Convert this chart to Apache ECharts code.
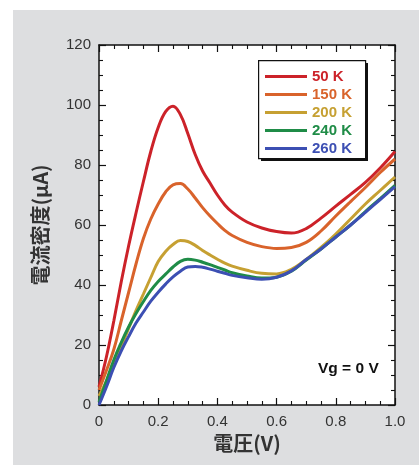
<!DOCTYPE html>
<html><head><meta charset="utf-8">
<script src="https://cdn.jsdelivr.net/npm/echarts@6/dist/echarts.min.js"></script>
<style>
html,body{margin:0;padding:0;background:#fff}
#wrap{position:relative;width:419px;height:465px;background:#fff;overflow:hidden}
#panel{position:absolute;left:13px;top:10px;width:406px;height:455px;background:#dddee0}
#plotbg{position:absolute;left:99px;top:45px;width:296px;height:360px;background:#fff}
#c{position:absolute;left:0;top:0;width:419px;height:465px}
</style>
</head><body><div id="wrap"><div id="panel"></div><div id="plotbg"></div><div id="c"></div></div>
<script>
const seriesNames = ['50 K','150 K','200 K','240 K','260 K'];
const seriesColors = ['#cc2229','#d9632b','#c6a032','#1f8c47','#3c4fb3'];
const voltage = [0,0.025,0.05,0.075,0.1,0.125,0.15,0.175,0.2,0.225,0.25,0.275,0.3,0.325,0.35,0.375,0.4,0.425,0.45,
                 0.5,0.55,0.6,0.65,0.7,0.75,0.8,0.85,0.9,0.95,1.0];
const k50  = [6,16,28,41,53,64,74.5,84.5,92.5,97.8,99.6,96.8,90.5,83.5,78,74,70,66.7,64.3,
              61,59,57.8,57.3,58.8,62.3,66.3,70.2,74.2,79,84.5];
const k150 = [5,11.5,18.5,28,37.5,47,55.5,62,67,71,73.4,73.8,72,69,65.8,63,60.5,58.2,56.5,
              54.2,52.8,52.2,52.5,54.2,58,63,67.8,72.5,77.5,82];
const k200 = [3,8,14,19.5,25.5,31.5,37,42.5,47.8,51.2,53.5,54.8,54.5,53.2,51.5,50,48.6,47.3,46.3,
              44.9,43.9,43.7,45.2,48.5,52.5,57,62,67,71.5,76];
const k240 = [1,8,15,20.8,26,30.5,34.5,38.2,41.2,43.6,46,47.9,48.6,48.3,47.6,46.8,45.9,45,44.1,
              43,42.3,42.6,44.6,48.3,52,56,60,64.5,68.8,73.2];
const k260 = [0,6,12.5,18,22.8,27.3,31,34.6,37.6,40.3,42.7,44.6,46,46.2,45.9,45.3,44.6,43.9,43.2,
              42.4,41.9,42.6,44.7,48.5,52,56,60,64.2,68.5,72.8];
const allData = [k50,k150,k200,k240,k260];
const xLabel = '電圧(V)';
const yLabel = '電流密度(μA)';
const note = 'Vg = 0 V';

const font = 'Liberation Sans, Arial, sans-serif';
const cjk = '"Noto Sans CJK JP", sans-serif';
const chart = echarts.init(document.getElementById('c'), null, {renderer:'canvas'});
const PW = 296, PH = 360;
const tickOn = {show:true, length:7, lineStyle:{color:'#111', width:1.2}};
const minorOn = {show:true, splitNumber:4, length:4, lineStyle:{color:'#111', width:1.1}};
const lineOn = {show:true, onZero:false, lineStyle:{color:'#111', width:1.5}};
const lineOff = {show:false, onZero:false};
const noTick = {show:false};
function xBase(extra){
  return Object.assign({type:'value', min:0, max:1, interval:0.2, splitLine:{show:false}, minorSplitLine:{show:false}}, extra);
}
function yBase(extra){
  return Object.assign({type:'value', min:0, max:120, interval:20, splitLine:{show:false}, minorSplitLine:{show:false}}, extra);
}
chart.setOption({
  animation:false,
  backgroundColor:'transparent',
  graphic:[
    {type:'rect', z:5, left:261, top:63, shape:{width:107, height:98}, style:{fill:'#111'}, silent:true},
    {type:'rect', z:5, left:258, top:60, shape:{width:107, height:98}, style:{fill:'#fff', stroke:'#111', lineWidth:1.2}, silent:true},
    {type:'text', left:318, top:361, z:10, style:{text:note, font:'bold 15.5px Liberation Sans, Arial, sans-serif', fill:'#111'}}
  ],
  grid:{left:99, top:45, width:PW, height:PH},
  xAxis:[
    xBase({position:'bottom', axisLine:lineOn, axisTick:noTick, minorTick:noTick,
      axisLabel:{color:'#333', fontSize:15, fontFamily:font, margin:9, formatter:v=> v===0?'0':v.toFixed(1)},
      name:xLabel, nameLocation:'middle', nameGap:26,
      nameTextStyle:{fontFamily:cjk, fontSize:20, color:'#333', fontWeight:'bold'}}),
    xBase({position:'top', axisLine:lineOn, axisTick:noTick, minorTick:noTick, axisLabel:{show:false}}),
    xBase({position:'bottom', offset:-PH, axisLine:lineOff, axisTick:tickOn, minorTick:minorOn, axisLabel:{show:false}}),
    xBase({position:'top', offset:-PH, axisLine:lineOff, axisTick:tickOn, minorTick:minorOn, axisLabel:{show:false}})
  ],
  yAxis:[
    yBase({position:'left', axisLine:lineOn, axisTick:noTick, minorTick:noTick,
      axisLabel:{color:'#333', fontSize:15, fontFamily:font, margin:8},
      name:yLabel, nameLocation:'middle', nameGap:49, nameRotate:90,
      nameTextStyle:{fontFamily:cjk, fontSize:20, color:'#333', fontWeight:'bold'}}),
    yBase({position:'right', axisLine:lineOn, axisTick:noTick, minorTick:noTick, axisLabel:{show:false}}),
    yBase({position:'left', offset:-PW, axisLine:lineOff, axisTick:tickOn, minorTick:minorOn, axisLabel:{show:false}}),
    yBase({position:'right', offset:-PW, axisLine:lineOff, axisTick:tickOn, minorTick:minorOn, axisLabel:{show:false}})
  ],
  legend:{
    z:10, orient:'vertical', left:265, top:69, itemWidth:42, itemHeight:3, itemGap:3,
    icon:'rect', padding:0,
    textStyle:{fontFamily:font, fontWeight:'bold', fontSize:15},
    data: seriesNames.map((n,i)=>({name:n, textStyle:{color:seriesColors[i]}}))
  },
  series: allData.map((d,i)=>({
    name:seriesNames[i], type:'line', smooth:0.4, showSymbol:false, symbol:'none',
    xAxisIndex:0, yAxisIndex:0, data:voltage.map((v,j)=>[v,d[j]]), z:2,
    lineStyle:{color:seriesColors[i], width:3}, itemStyle:{color:seriesColors[i]}
  }))
});
</script></body></html>
